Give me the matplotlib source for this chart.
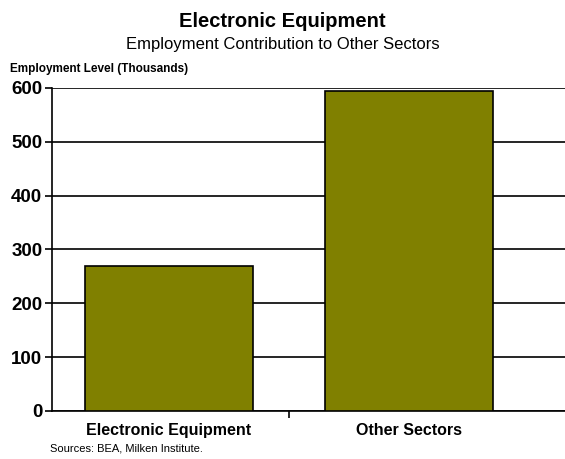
import matplotlib.pyplot as plt

plt.rcParams['font.family'] = ['Liberation Sans', 'DejaVu Sans']

categories = ['Electronic Equipment', 'Other Sectors']
employment = [269, 594]
yticks = [0, 100, 200, 300, 400, 500, 600]

fig = plt.figure(figsize=(5.65, 4.59), dpi=100)
ax = fig.add_axes([0.092, 0.1046, 0.95, 0.7037])

x = list(range(len(categories)))
ax.bar(x, employment, width=0.7, color='#808000', edgecolor='black', linewidth=1.2, zorder=3)

ax.set_ylim(0, 600)
ax.set_xlim(-0.487, 1.75)
ax.set_yticks(yticks)
ax.set_yticklabels([str(v) for v in yticks], fontsize=13.5, fontweight='bold')
ax.yaxis.grid(True, color='black', linewidth=1.2, zorder=0)

ax.set_xticks(x)
ax.set_xticklabels(categories, fontsize=11.5, fontweight='bold')
ax.tick_params(axis='x', length=0, pad=9)
ax.set_xticks([0.5], minor=True)
ax.tick_params(axis='x', which='minor', length=5, width=1.2, direction='out')
ax.tick_params(axis='y', length=5, width=1.2, direction='out', pad=2)

for side in ['top', 'right']:
    ax.spines[side].set_visible(False)
ax.spines['left'].set_linewidth(1.2)
ax.spines['bottom'].set_linewidth(1.2)

fig.text(0.5, 0.953, 'Electronic Equipment', ha='center', va='center',
         fontsize=14.5, fontweight='bold')
fig.text(0.5, 0.902, 'Employment Contribution to Other Sectors', ha='center', va='center',
         fontsize=12)
fig.text(0.018, 0.85, 'Employment Level (Thousands)', ha='left', va='center',
         fontsize=8.5, fontweight='bold')
fig.text(0.088, 0.022, 'Sources: BEA, Milken Institute.', ha='left', va='center',
         fontsize=8)

fig.savefig('out.png', dpi=100)
